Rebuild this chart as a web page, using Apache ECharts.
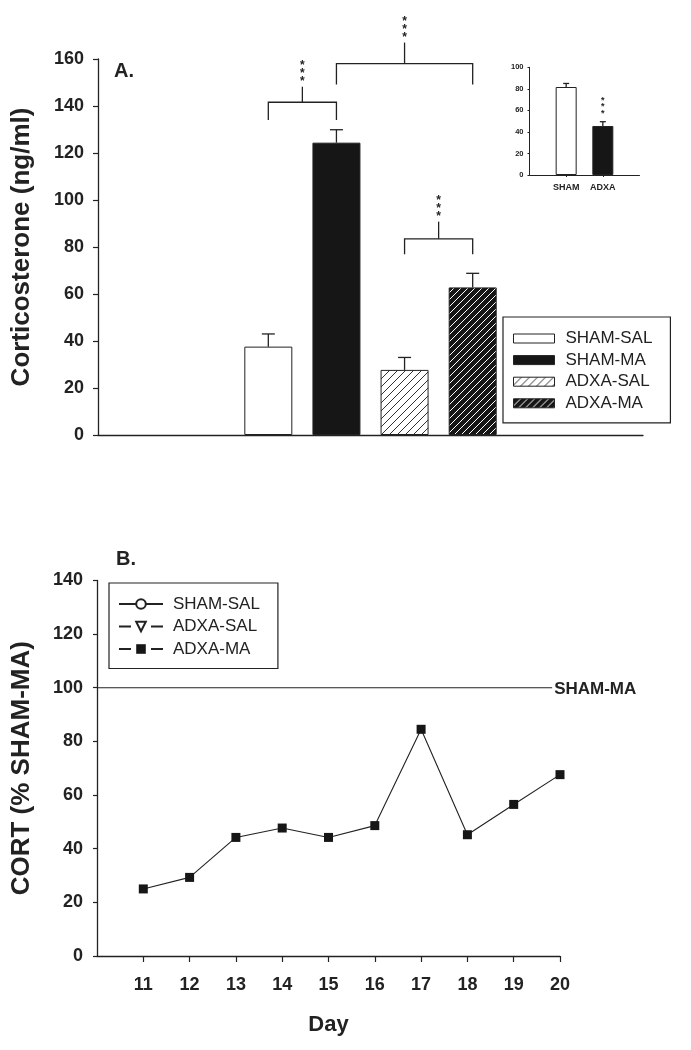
<!DOCTYPE html>
<html><head><meta charset="utf-8">
<script src="https://cdn.jsdelivr.net/npm/echarts@6/dist/echarts.min.js"></script>
<style>html,body{margin:0;padding:0;background:#fff}#c{width:691px;height:1050px}</style>
</head><body><div id="c"></div>
<script>
// ---------- Panel A data ----------
const groups = ['SHAM-SAL', 'SHAM-MA', 'ADXA-SAL', 'ADXA-MA'];
const cortMean = [37.6, 124.4, 27.7, 62.8];
const cortSem = [5.4, 5.5, 5.3, 6.0];
// significance brackets: [fromGroup, toGroup, legBottom, barLevel, stemTop]
const brackets = [
  [0, 1, 134, 141.6, 148.2],
  [1, 3, 149.2, 158, 167],
  [2, 3, 76.9, 83.5, 90.8]
];
// ---------- Inset data ----------
const insetCats = ['SHAM', 'ADXA'];
const insetMean = [81.7, 45.5];
const insetSem = [3.3, 4.0];
const insetStars = ['', '***'];
// ---------- Panel B data ----------
const days = [11, 12, 13, 14, 15, 16, 17, 18, 19, 20];
const adxaMaPct = [25.0, 29.3, 44.2, 47.7, 44.2, 48.6, 84.5, 45.2, 56.5, 67.6];
const shamMaRef = 100;
const refLineDays = [10, 19.83];

const FONT = 'Liberation Sans';
const INK = '#222';

function hatch(bg, fg, step, lw) {
  const c = document.createElement('canvas');
  c.width = step; c.height = step;
  const g = c.getContext('2d');
  g.fillStyle = bg; g.fillRect(0, 0, step, step);
  g.strokeStyle = fg; g.lineWidth = lw;
  g.beginPath();
  g.moveTo(0, step); g.lineTo(step, 0);
  g.moveTo(-step / 2, step / 2); g.lineTo(step / 2, -step / 2);
  g.moveTo(step / 2, step * 1.5); g.lineTo(step * 1.5, step / 2);
  g.stroke();
  return c;
}
const fills = [
  '#ffffff',
  '#161616',
  { image: hatch('#ffffff', '#333333', 8, 1), repeat: 'repeat' },
  { image: hatch('#161616', '#ffffff', 7, 1), repeat: 'repeat' }
];

const slots = ['', ''].concat(groups, ['', '']);
const SLOT0 = 2;

const barSeries = groups.map((g, i) => ({
  name: g,
  type: 'bar',
  xAxisIndex: 0, yAxisIndex: 0,
  barWidth: 48,
  barGap: '-100%',
  itemStyle: { color: fills[i], borderColor: INK, borderWidth: 1 },
  data: slots.map((s, k) => (k === i + SLOT0 ? cortMean[i] : '-'))
}));

function errRender(cap) {
  return function (params, api) {
    const x = api.value(0), m = api.value(1), e = api.value(2);
    const p0 = api.coord([x, m]);
    const p1 = api.coord([x, m + e]);
    const st = { stroke: INK, lineWidth: 1.3 };
    const ch = [
      { type: 'line', shape: { x1: p0[0], y1: p0[1], x2: p1[0], y2: p1[1] }, style: st },
      { type: 'line', shape: { x1: p1[0] - cap, y1: p1[1], x2: p1[0] + cap, y2: p1[1] }, style: st }
    ];
    return { type: 'group', children: ch };
  };
}

const chart = echarts.init(document.getElementById('c'), null, { renderer: 'canvas' });
const option = {
  animation: false,
  backgroundColor: '#fff',
  textStyle: { fontFamily: FONT, color: INK },
  grid: [
    { left: 98, top: 59, width: 545, height: 376 },
    { left: 529.5, top: 67.3, width: 110, height: 107.7 },
    { left: 97, top: 580.4, width: 463, height: 375.6 }
  ],
  xAxis: [
    { type: 'category', gridIndex: 0, data: slots, axisTick: { show: false }, axisLabel: { show: false },
      axisLine: { lineStyle: { color: INK, width: 1.3 } } },
    { type: 'value', gridIndex: 1, min: 0, max: 3, interval: 1, splitLine: { show: false },
      axisLine: { show: true, lineStyle: { color: INK, width: 1 } },
      axisTick: { show: true, length: 2, customValues: [1, 2], lineStyle: { color: INK } },
      axisLabel: { customValues: [1, 2], formatter: v => insetCats[v - 1] || '', fontSize: 9, fontWeight: 'bold', color: INK, margin: 8, fontFamily: FONT } },
    { type: 'value', gridIndex: 2, min: 10, max: 20, interval: 1, splitLine: { show: false },
      axisLine: { show: true, lineStyle: { color: INK, width: 1.3 } },
      axisTick: { show: true, length: 6, customValues: days, lineStyle: { color: INK, width: 1.2 } },
      axisLabel: { customValues: days, fontSize: 18, fontWeight: 'bold', color: INK, margin: 20, fontFamily: FONT },
      name: 'Day', nameLocation: 'middle', nameGap: 58,
      nameTextStyle: { fontSize: 22, fontWeight: 'bold', color: INK, fontFamily: FONT } }
  ],
  yAxis: [
    { type: 'value', gridIndex: 0, min: 0, max: 160, interval: 20, splitLine: { show: false },
      axisLine: { show: true, lineStyle: { color: INK, width: 1.3 } },
      axisTick: { show: true, length: 5, lineStyle: { color: INK, width: 1.2 } },
      axisLabel: { fontSize: 18, fontWeight: 'bold', color: INK, margin: 14, fontFamily: FONT },
      name: 'Corticosterone (ng/ml)', nameLocation: 'middle', nameGap: 63,
      nameTextStyle: { fontSize: 26, fontWeight: 'bold', color: INK, fontFamily: FONT } },
    { type: 'value', gridIndex: 1, min: 0, max: 100, interval: 20, splitLine: { show: false },
      axisLine: { show: true, lineStyle: { color: INK, width: 1 } },
      axisTick: { show: true, length: 2, lineStyle: { color: INK } },
      axisLabel: { fontSize: 7.5, fontWeight: 'bold', color: INK, margin: 6, fontFamily: FONT } },
    { type: 'value', gridIndex: 2, min: 0, max: 140, interval: 20, splitLine: { show: false },
      axisLine: { show: true, lineStyle: { color: INK, width: 1.3 } },
      axisTick: { show: true, length: 4, lineStyle: { color: INK, width: 1.2 } },
      axisLabel: { fontSize: 18, fontWeight: 'bold', color: INK, margin: 14, fontFamily: FONT },
      name: 'CORT (% SHAM-MA)', nameLocation: 'middle', nameGap: 62,
      nameTextStyle: { fontSize: 26, fontWeight: 'bold', color: INK, fontFamily: FONT } }
  ],
  legend: [
    { data: groups, orient: 'vertical', left: 503, top: 317, icon: 'rect',
      itemWidth: 41, itemHeight: 9, itemGap: 4.6, padding: [13, 18, 11, 10],
      borderColor: INK, borderWidth: 1.2, selectedMode: false,
      itemStyle: { borderColor: INK, borderWidth: 1 },
      textStyle: { fontFamily: FONT, fontSize: 17, color: INK, padding: [0, 0, 0, 6] } },
    { data: [
        { name: 'B:SHAM-SAL' },
        { name: 'B:ADXA-SAL', lineStyle: { type: [12, 20] } },
        { name: 'B:ADXA-MA', lineStyle: { type: [12, 20] } }
      ],
      formatter: n => n.slice(2),
      orient: 'vertical', left: 109, top: 583, itemWidth: 44, itemHeight: 12, itemGap: 5.5,
      padding: [12.5, 18, 11, 9], borderColor: INK, borderWidth: 1.2, selectedMode: false,
      textStyle: { fontFamily: FONT, fontSize: 17, color: INK, padding: [0, 0, 0, 5] } }
  ],
  graphic: [
    { type: 'text', left: 114, top: 61, style: { text: 'A.', font: 'bold 20px "Liberation Sans"', fill: INK } },
    { type: 'text', left: 116, top: 549, style: { text: 'B.', font: 'bold 20px "Liberation Sans"', fill: INK } }
  ],
  series: barSeries.concat([
    { type: 'custom', xAxisIndex: 0, yAxisIndex: 0, silent: true, clip: false, z: 5,
      encode: { x: 0, y: 1 },
      data: groups.map((g, i) => [i + SLOT0, cortMean[i], cortSem[i]]),
      renderItem: errRender(6.5) },
    { type: 'custom', xAxisIndex: 0, yAxisIndex: 0, silent: true, clip: false, z: 5,
      encode: { x: 0, y: 3 },
      data: brackets.map(b => [b[0] + SLOT0, b[1] + SLOT0, b[2], b[3], b[4]]),
      renderItem: function (params, api) {
        const a = api.value(0), b = api.value(1);
        const leg = api.value(2), lvl = api.value(3), top = api.value(4);
        const pa = api.coord([a, leg]), pb = api.coord([b, leg]);
        const ya = api.coord([a, lvl])[1];
        const yt = api.coord([a, top])[1];
        const mx = (pa[0] + pb[0]) / 2;
        const st = { stroke: INK, lineWidth: 1.3, fill: null };
        return { type: 'group', children: [
          { type: 'polyline', shape: { points: [[pa[0], pa[1]], [pa[0], ya], [pb[0], ya], [pb[0], pb[1]]] }, style: st },
          { type: 'line', shape: { x1: mx, y1: ya, x2: mx, y2: yt }, style: st },
          { type: 'text', x: mx, y: yt - 1, style: { text: '*\n*\n*', font: 'bold 12px "Liberation Sans"', lineHeight: 8, align: 'center', verticalAlign: 'bottom', fill: INK } }
        ] };
      } },
    // inset
    { type: 'bar', xAxisIndex: 1, yAxisIndex: 1, barWidth: 21, silent: true,
      data: insetCats.map((c, i) => ({ value: [i + 1, insetMean[i]],
        itemStyle: { color: i === 0 ? '#ffffff' : '#161616', borderColor: INK, borderWidth: 1 } })) },
    { type: 'custom', xAxisIndex: 1, yAxisIndex: 1, silent: true, clip: false, z: 5,
      encode: { x: 0, y: 1 },
      data: insetCats.map((c, i) => [i + 1, insetMean[i], insetSem[i], i]),
      renderItem: function (params, api) {
        const g = errRender(3)(params, api);
        const i = api.value(3);
        if (insetStars[i]) {
          const p = api.coord([api.value(0), api.value(1) + api.value(2)]);
          g.children.push({ type: 'text', x: p[0], y: p[1] - 5, style: { text: '*\n*\n*', font: 'bold 9px "Liberation Sans"', lineHeight: 6.5, align: 'center', verticalAlign: 'bottom', fill: INK } });
        }
        return g;
      } },
    // panel B
    { name: 'B:SHAM-SAL', type: 'line', xAxisIndex: 2, yAxisIndex: 2, data: [],
      symbol: 'emptyCircle', symbolSize: 9, itemStyle: { color: INK }, lineStyle: { color: INK, width: 1 } },
    { name: 'B:ADXA-SAL', type: 'line', xAxisIndex: 2, yAxisIndex: 2, data: [],
      symbol: 'emptyTriangle', symbolRotate: 180, symbolSize: 9, itemStyle: { color: INK }, lineStyle: { color: INK, width: 1 } },
    { name: 'B:ADXA-MA', type: 'line', xAxisIndex: 2, yAxisIndex: 2,
      data: days.map((d, i) => [d, adxaMaPct[i]]),
      symbol: 'rect', symbolSize: 9, itemStyle: { color: '#161616' }, lineStyle: { color: INK, width: 1.1 }, z: 4 },
    { name: 'SHAM-MA-ref', type: 'line', xAxisIndex: 2, yAxisIndex: 2, silent: true,
      data: refLineDays.map(d => [d, shamMaRef]), symbol: 'none',
      lineStyle: { color: INK, width: 1.1 },
      endLabel: { show: true, formatter: 'SHAM-MA', fontSize: 17, fontWeight: 'bold', color: INK, fontFamily: FONT, distance: 2, offset: [0, 2] } }
  ])
};
chart.setOption(option);
</script>
</body></html>
